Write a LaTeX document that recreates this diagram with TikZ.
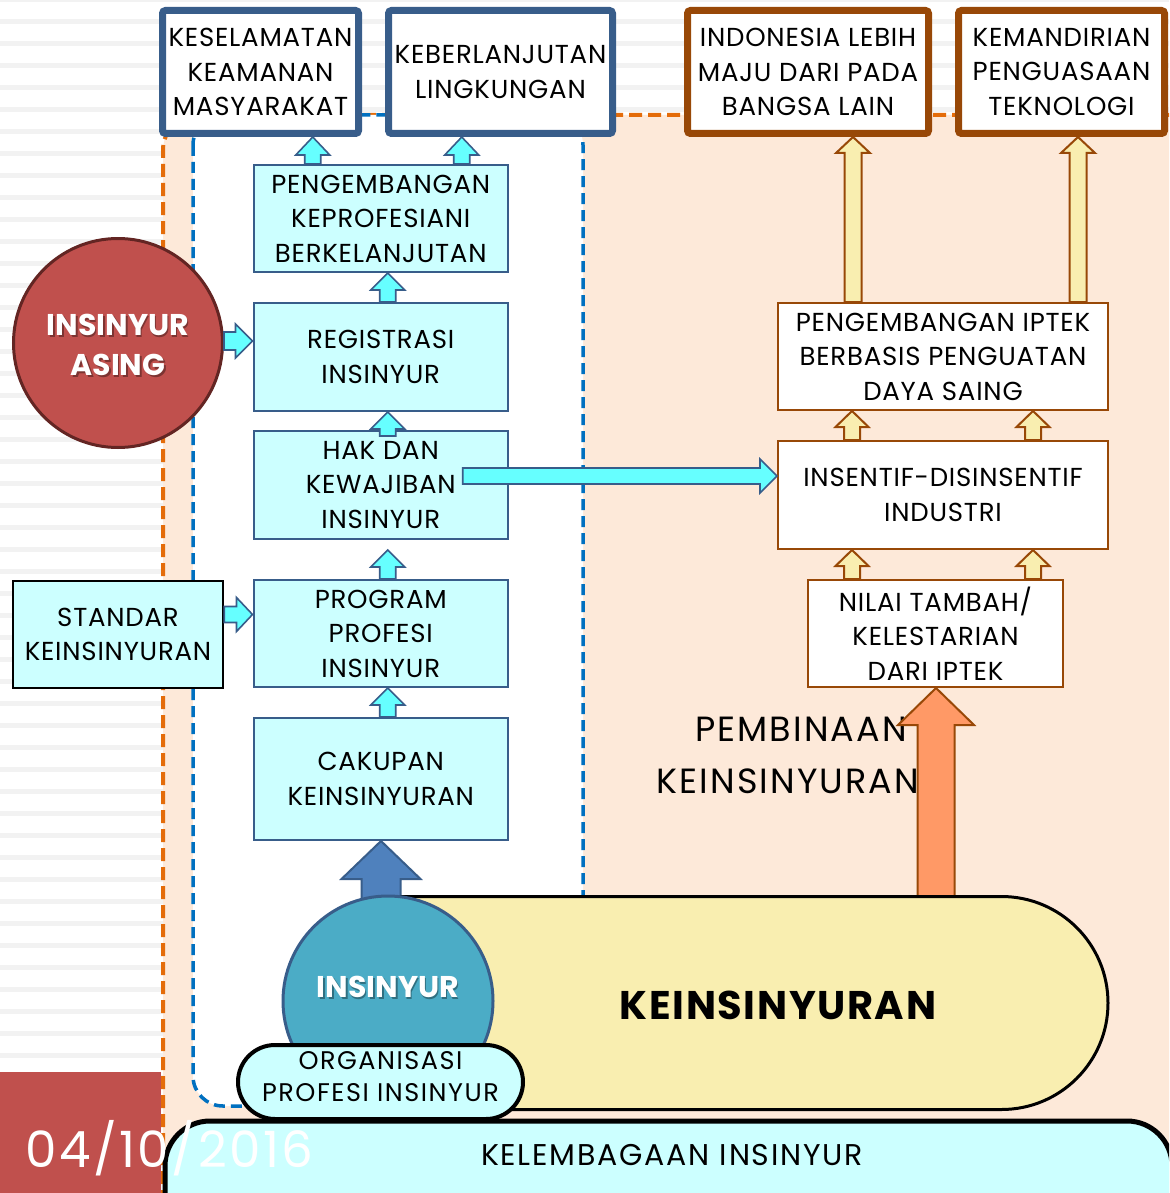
\documentclass[tikz,border=0pt]{standalone}
\usepackage{fontspec}
\setmainfont{Poppins}
\usetikzlibrary{calc}

\definecolor{stripegray}{HTML}{F2F2F2}
\definecolor{datered}{HTML}{C0504D}
\definecolor{peach}{HTML}{FDE9D9}
\definecolor{orangedash}{HTML}{E46C0A}
\definecolor{bluedash}{HTML}{0070C0}
\definecolor{slate}{HTML}{385D8A}
\definecolor{brownb}{HTML}{984807}
\definecolor{cyanbox}{HTML}{CCFFFF}
\definecolor{cyanfill}{HTML}{66FFFF}
\definecolor{creamy}{HTML}{F9EEB0}
\definecolor{salmon}{HTML}{FF9966}
\definecolor{tealc}{HTML}{4BACC6}
\definecolor{steel}{HTML}{4F81BD}
\definecolor{darkred}{HTML}{632523}

% font helper: size, leading, letter spacing
\newcommand{\spacedfont}[3]{\fontsize{#1}{#2}\selectfont\addfontfeatures{LetterSpace=#3}}

% block arrow pointing up: style, base, tip, shaft half width, head half width, head length
\newcommand{\blockup}[6]{%
  \draw[#1] let \p1=(#2), \p2=(#3) in
    (\x1-#4,\y1) -- (\x1-#4,\y2-#6) -- (\x1-#5,\y2-#6) -- (\x1,\y2)
    -- (\x1+#5,\y2-#6) -- (\x1+#4,\y2-#6) -- (\x1+#4,\y1) -- cycle;}
% block arrow pointing right
\newcommand{\blockright}[6]{%
  \draw[#1] let \p1=(#2), \p2=(#3) in
    (\x1,\y1+#4) -- (\x2-#6,\y1+#4) -- (\x2-#6,\y1+#5) -- (\x2,\y1)
    -- (\x2-#6,\y1-#5) -- (\x2-#6,\y1-#4) -- (\x1,\y1-#4) -- cycle;}

\begin{document}
\begin{tikzpicture}[x=1pt,y=-1pt,
  lbl/.style={font=\spacedfont{26}{34.5}{3}, align=center, inner sep=0pt},
  topblue/.style={lbl, draw=slate, line width=7pt, fill=white, rounded corners=3pt, minimum height=123pt},
  topbrown/.style={topblue, draw=brownb},
  cbox/.style={lbl, draw=slate, line width=2pt, fill=cyanbox, minimum width=254.5pt},
  wbox/.style={lbl, draw=brownb, line width=2pt, fill=white},
  cyanarr/.style={fill=cyanfill, draw=slate, line width=1.6pt, line join=miter},
  yelarr/.style={fill=creamy, draw=brownb, line width=2pt, line join=miter},
  boldwhite/.style={font=\bfseries\fontsize{30}{40}\selectfont, text=white, align=center, inner sep=0pt},
  boldshadow/.style={boldwhite, text=black, opacity=0.35},
]
\useasboundingbox (0,0) rectangle (1169,1193);
\clip (0,0) rectangle (1169,1193);

% page background with faint horizontal stripes
\fill[white] (0,0) rectangle (1169,1193);
\fill[stripegray] (0,0) rectangle (1169,2);
\foreach \i in {0,...,53}
  \fill[stripegray] (0,{19+22*\i}) rectangle (1169,{24+22*\i});

% date block
\fill[datered] (0,1072) rectangle (161,1193);

% peach field with orange dashed border
\fill[peach, rounded corners=35pt] (163,1260) -- (163,115) -- (1240,115) -- (1240,1260) -- cycle;
\draw[orangedash, line width=4pt, dash pattern=on 13pt off 6pt, rounded corners=35pt]
  (163,1260) -- (163,115) -- (1240,115);

% white field with blue dashed border
\draw[bluedash, line width=3.5pt, dash pattern=on 11pt off 6pt, fill=white, rounded corners=30pt]
  (193,115) rectangle (583,1106);

% caption of the development arrow
\node[font=\spacedfont{35}{40}{6}, anchor=base, inner sep=0pt] (pemb1) at (801,741) {PEMBINAAN};
\node[font=\spacedfont{35}{40}{6}, anchor=base, inner sep=0pt] (pemb2) at (788,793) {KEINSINYURAN};

% goals at the top
\node[topblue, minimum width=196pt] (kes) at (260.5,72) {KESELAMATAN\\KEAMANAN\\MASYARAKAT};
\node[topblue, minimum width=224pt] (keb) at (500.5,72) {KEBERLANJUTAN\\LINGKUNGAN};
\node[topbrown, minimum width=241pt] (indo) at (808,72) {INDONESIA LEBIH\\MAJU DARI PADA\\BANGSA LAIN};
\node[topbrown, minimum width=206pt] (kem) at (1061.5,72) {KEMANDIRIAN\\PENGUASAAN\\TEKNOLOGI};

% engineer professional chain
\node[cbox, minimum height=107pt] (peng) at (380.75,218.5) {PENGEMBANGAN\\KEPROFESIANI\\BERKELANJUTAN};
\node[cbox, minimum height=108pt] (reg) at (380.75,357) {REGISTRASI\\INSINYUR};
\node[cbox, minimum height=108pt] (hak) at (380.75,485) {HAK DAN\\KEWAJIBAN\\INSINYUR};
\node[cbox, minimum height=107pt] (prog) at (380.75,633.5) {PROGRAM\\PROFESI\\INSINYUR};
\node[cbox, minimum height=122pt] (cak) at (380.75,779) {CAKUPAN\\KEINSINYURAN};

\node[lbl, draw=black, line width=2.5pt, fill=cyanbox, minimum width=210pt, minimum height=107pt]
  (std) at (118,634.5) {STANDAR\\KEINSINYURAN};

% foreign engineers
\node[circle, draw=darkred, line width=3pt, fill=datered, minimum size=209pt, inner sep=0pt] (asing) at (118,343) {};
\node[boldshadow] at (119.5,346.5) {INSINYUR\\ASING};
\node[boldwhite] (asingtxt) at (118,345) {INSINYUR\\ASING};

% industry chain
\node[wbox, minimum width=330pt, minimum height=107pt] (iptek) at (943,356.5) {PENGEMBANGAN IPTEK\\BERBASIS PENGUATAN\\DAYA SAING};
\node[wbox, minimum width=330pt, minimum height=108pt] (ins) at (943,495) {INSENTIF-DISINSENTIF\\INDUSTRI};
\node[wbox, minimum width=255pt, minimum height=107pt] (nilai) at (935.5,633.5) {NILAI TAMBAH/\\KELESTARIAN\\DARI IPTEK};

% cyan arrows of the professional chain
\coordinate (a1b) at ($(peng.north)+(-68,0)$);
\coordinate (a1t) at (a1b |- kes.south);
\blockup{cyanarr}{a1b}{a1t}{8pt}{17pt}{18pt}
\coordinate (a2b) at ($(peng.north)+(81,0)$);
\coordinate (a2t) at (a2b |- keb.south);
\blockup{cyanarr}{a2b}{a2t}{8pt}{17pt}{18pt}
\coordinate (a3b) at ($(reg.north)+(7,0)$);
\coordinate (a3t) at (a3b |- peng.south);
\blockup{cyanarr}{a3b}{a3t}{8pt}{17pt}{17pt}
\coordinate (a4b) at ($(hak.north)+(7,6)$);
\coordinate (a4t) at ($(hak.north)+(7,0)$);
\coordinate (a4t) at (a4t |- reg.south);
\blockup{cyanarr}{a4b}{a4t}{8pt}{17pt}{17pt}
\coordinate (a5b) at ($(prog.north)+(7,0)$);
\coordinate (a5t) at ($(a5b |- hak.south)+(0,10)$);
\blockup{cyanarr}{a5b}{a5t}{8pt}{17pt}{17pt}
\coordinate (a6b) at ($(cak.north)+(7,0)$);
\coordinate (a6t) at (a6b |- prog.south);
\blockup{cyanarr}{a6b}{a6t}{8pt}{17pt}{17pt}

\coordinate (h1b) at ($(asing.east)+(0,-2)$);
\coordinate (h1t) at (h1b -| reg.west);
\blockright{cyanarr}{h1b}{h1t}{9pt}{17pt}{17pt}
\coordinate (h2b) at ($(std.east)+(0,-20)$);
\coordinate (h2t) at (h2b -| prog.west);
\blockright{cyanarr}{h2b}{h2t}{8pt}{17pt}{16pt}
\coordinate (h3b) at ($(hak.center)+(82,-9)$);
\coordinate (h3t) at (h3b -| ins.west);
\blockright{cyanarr}{h3b}{h3t}{8pt}{17pt}{17pt}

% yellow arrows of the industry chain
\coordinate (y1b) at (853,0);
\coordinate (y1b) at (y1b |- iptek.north);
\coordinate (y1t) at (y1b |- indo.south);
\blockup{yelarr}{y1b}{y1t}{8.5pt}{17pt}{16pt}
\coordinate (y2b) at (1078,0);
\coordinate (y2b) at (y2b |- iptek.north);
\coordinate (y2t) at (y2b |- kem.south);
\blockup{yelarr}{y2b}{y2t}{8.5pt}{17pt}{16pt}
\foreach \xx [count=\k] in {852,1033}{
  \coordinate (ya\k b) at (\xx,0);
  \coordinate (ya\k b) at (ya\k b |- ins.north);
  \coordinate (ya\k t) at (ya\k b |- iptek.south);
  \blockup{yelarr}{ya\k b}{ya\k t}{8pt}{16.5pt}{16pt}
  \coordinate (yb\k b) at (\xx,0);
  \coordinate (yb\k b) at (yb\k b |- nilai.north);
  \coordinate (yb\k t) at (yb\k b |- ins.south);
  \blockup{yelarr}{yb\k b}{yb\k t}{8pt}{16.5pt}{16pt}
}

% institutional base
\draw[black, line width=5pt, fill=cyanbox, rounded corners=45pt] (165,1121) rectangle (1172,1280);
\node[font=\spacedfont{30}{34}{6}, inner sep=0pt] (lemb) at (672,1155) {KELEMBAGAAN INSINYUR};

% big upward arrows
\coordinate (ob) at (936,905);
\coordinate (ot) at (ob |- nilai.south);
\blockup{fill=salmon, draw=brownb, line width=2pt, line join=miter}{ob}{ot}{18.5pt}{38pt}{37pt}
\coordinate (bb) at (381,930);
\coordinate (bt) at (bb |- cak.south);
\blockup{fill=steel, draw=slate, line width=2pt, line join=miter}{bb}{bt}{19.5pt}{39.5pt}{38pt}

% engineering field
\node[draw=black, line width=3pt, fill=creamy, rounded corners=106.5pt, minimum width=818pt, minimum height=213pt, inner sep=0pt] (keins) at (699,1003) {};
\node[font=\bfseries\spacedfont{40}{44}{4}, inner sep=0pt] (keinstxt) at (778,1005) {KEINSINYURAN};

% engineers
\node[circle, draw=slate, line width=3pt, fill=tealc, minimum size=210pt, inner sep=0pt] (ins1) at (388,1001) {};
\node[boldshadow] at (389.5,988.5) {INSINYUR};
\node[boldwhite] (ins1txt) at (388,987) {INSINYUR};

% professional organisation
\node[draw=black, line width=4pt, fill=cyanbox, rounded corners=37pt, minimum width=285pt, minimum height=74pt, inner sep=0pt] (org) at (380.5,1082) {};
\node[font=\spacedfont{25.5}{32}{6}, align=center, inner sep=0pt] (orgtxt) at (380.5,1077) {ORGANISASI\\PROFESI INSINYUR};

% date
\node[font=\spacedfont{50}{60}{5}, text=white, anchor=base west, inner sep=0pt] (date) at (25,1167) {04/10/2016};
\end{tikzpicture}
\end{document}
